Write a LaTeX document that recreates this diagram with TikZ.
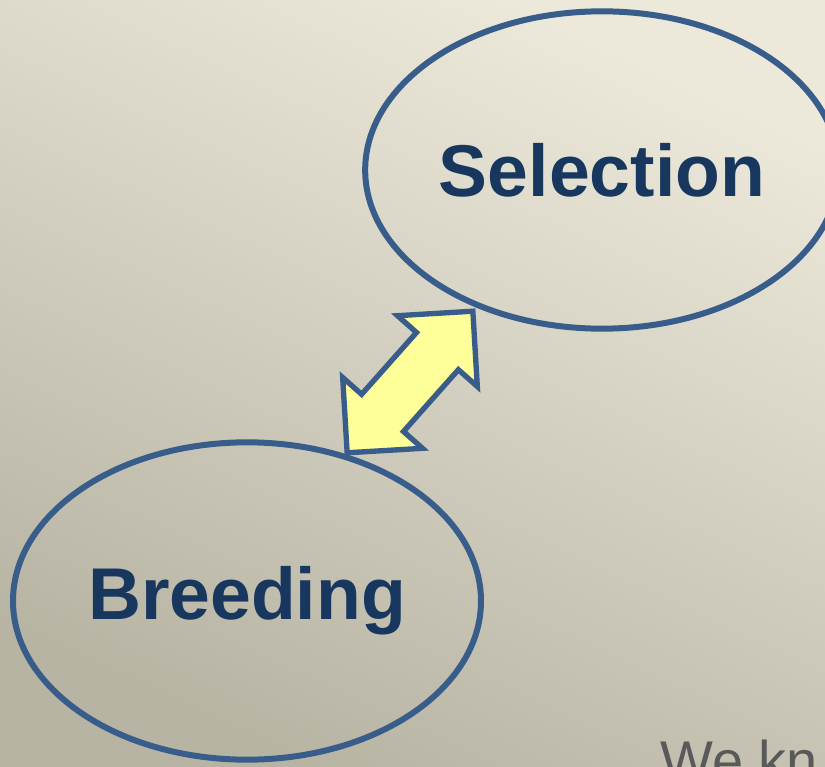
\documentclass[tikz,border=0pt]{standalone}
\usepackage{fontspec}
\setmainfont{Liberation Sans}
\usepackage{xcolor}
\usepackage{tikz}
\usetikzlibrary{shapes.geometric,shapes.arrows}
\definecolor{rimblue}{HTML}{385D8A}
\definecolor{inkblue}{HTML}{17375E}
\definecolor{pale}{HTML}{FFFF99}
\definecolor{bglight}{HTML}{ECE9DB}
\definecolor{bgdark}{HTML}{B8B4A4}
\tikzset{
  bubble/.style={ellipse, draw=rimblue, line width=4.5pt, minimum width=351pt,
    minimum height=238pt, text=inkblue, font=\fontsize{55}{60}\selectfont\bfseries},
  swap/.style={double arrow, draw=rimblue, fill=pale, line width=4pt,
    minimum height=142pt, inner xsep=0pt, inner ysep=19pt,
    double arrow head extend=19pt, double arrow head indent=0pt}
}
\begin{document}
\begin{tikzpicture}[x=0.75pt,y=-0.75pt]
                  \useasboundingbox (0,0) rectangle (825,767);
                  \clip (0,0) rectangle (825,767);
                  \shade[top color=bglight, bottom color=bgdark, shading angle=-25]
                        (0,0) rectangle (825,767); %background

                  \node[bubble] (sel) at (602,170) {Selection};
                  \node[bubble] (breed) at (247,601) {Breeding};

                  \node[swap, rotate=48.4] (link) at (410,382) {};

                  \node[anchor=base west, text=black!65, font=\fontsize{42}{48}\selectfont,
                        inner sep=0pt] (note) at (660,780) {We kn};
              \end{tikzpicture}
\end{document}
